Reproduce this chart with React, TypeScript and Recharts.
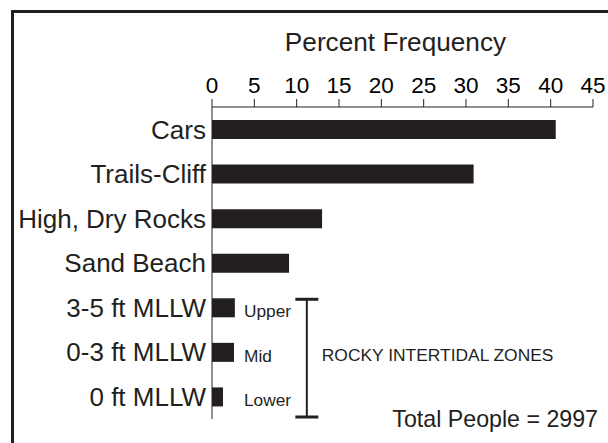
import React from "react";
import {
  Bar,
  BarChart,
  LabelList,
  ReferenceArea,
  XAxis,
  YAxis,
} from "recharts";

const categories = [
  "Cars",
  "Trails-Cliff",
  "High, Dry Rocks",
  "Sand Beach",
  "3-5 ft MLLW",
  "0-3 ft MLLW",
  "0 ft MLLW",
];
const percentFrequency = [40.6, 30.9, 13.0, 9.1, 2.7, 2.6, 1.3];
const zoneLabels = ["", "", "", "", "Upper", "Mid", "Lower"];
const xTicks = [0, 5, 10, 15, 20, 25, 30, 35, 40, 45];

const INK = "#231f20";
const FONT = "'Liberation Sans', Arial, Helvetica, sans-serif";

const data = categories.map((name, i) => ({
  name,
  value: percentFrequency[i],
  zone: zoneLabels[i],
}));

const ZoneLabel = (props: any) => {
  const { x, y, height, value } = props;
  if (!value) return null;
  return (
    <text
      x={Number(x) + 32}
      y={Number(y) + Number(height) / 2 + 9.3}
      fontSize={17.3}
      fontFamily={FONT}
      fill={INK}
    >
      {value}
    </text>
  );
};

// bracket around the intertidal rows
const Bracket = (props: any) => {
  const { x, y, width, height } = props;
  const cx = x + width / 2;
  const top = y + 14;
  const bottom = y + height - 2;
  return (
    <g>
      <line x1={cx} x2={cx} y1={top} y2={bottom} stroke={INK} strokeWidth={2} />
      <line x1={cx - 11.5} x2={cx + 11.5} y1={top} y2={top} stroke={INK} strokeWidth={3} />
      <line x1={cx - 11.5} x2={cx + 11.5} y1={bottom} y2={bottom} stroke={INK} strokeWidth={3} />
      <text
        x={cx + 15}
        y={(top + bottom) / 2 + 3}
        fontSize={17.4}
        fontFamily={FONT}
        fill={INK}
      >
        ROCKY INTERTIDAL ZONES
      </text>
    </g>
  );
};

export default function App() {
  return (
    <div
      style={{
        position: "absolute",
        left: 0,
        top: 0,
        width: 608,
        height: 443,
        overflow: "hidden",
        background: "#fff",
      }}
    >
      <div
        style={{
          position: "absolute",
          left: 11,
          top: 10,
          width: 700,
          height: 500,
          borderTop: `3px solid ${INK}`,
          borderLeft: `3px solid ${INK}`,
        }}
      />
      <BarChart
        layout="vertical"
        width={608}
        height={443}
        data={data}
        margin={{ top: 0, right: 15, bottom: 24, left: 0 }}
        style={{ position: "absolute", left: 0, top: 0 }}
      >
        <XAxis
          type="number"
          orientation="top"
          domain={[0, 45]}
          ticks={xTicks}
          interval={0}
          height={107}
          tickSize={8}
          tickMargin={6}
          axisLine={{ stroke: INK }}
          tickLine={{ stroke: INK }}
          tick={{ fill: "#000", fontSize: 22.5, fontFamily: FONT }}
          label={{
            value: "Percent Frequency",
            position: "insideTop",
            offset: 32,
            dx: -7,
            fontSize: 26.2,
            fontFamily: FONT,
            fill: INK,
          }}
        />
        <YAxis
          type="category"
          dataKey="name"
          width={212}
          interval={0}
          tickSize={0}
          tickMargin={6}
          tickLine={false}
          axisLine={{ stroke: INK }}
          tick={{ fill: INK, fontSize: 26, fontFamily: FONT }}
        />
        <Bar dataKey="value" fill={INK} barSize={19} isAnimationActive={false}>
          <LabelList dataKey="zone" content={ZoneLabel} />
        </Bar>
        <ReferenceArea
          x1={11.0}
          x2={11.4}
          y1="3-5 ft MLLW"
          y2="0 ft MLLW"
          shape={Bracket}
        />
      </BarChart>
      <svg
        width={608}
        height={443}
        style={{ position: "absolute", left: 0, top: 0, pointerEvents: "none" }}
      >
        <text
          x={598}
          y={427}
          textAnchor="end"
          fontSize={23.2}
          fontFamily={FONT}
          fill={INK}
        >
          Total People = 2997
        </text>
      </svg>
    </div>
  );
}
